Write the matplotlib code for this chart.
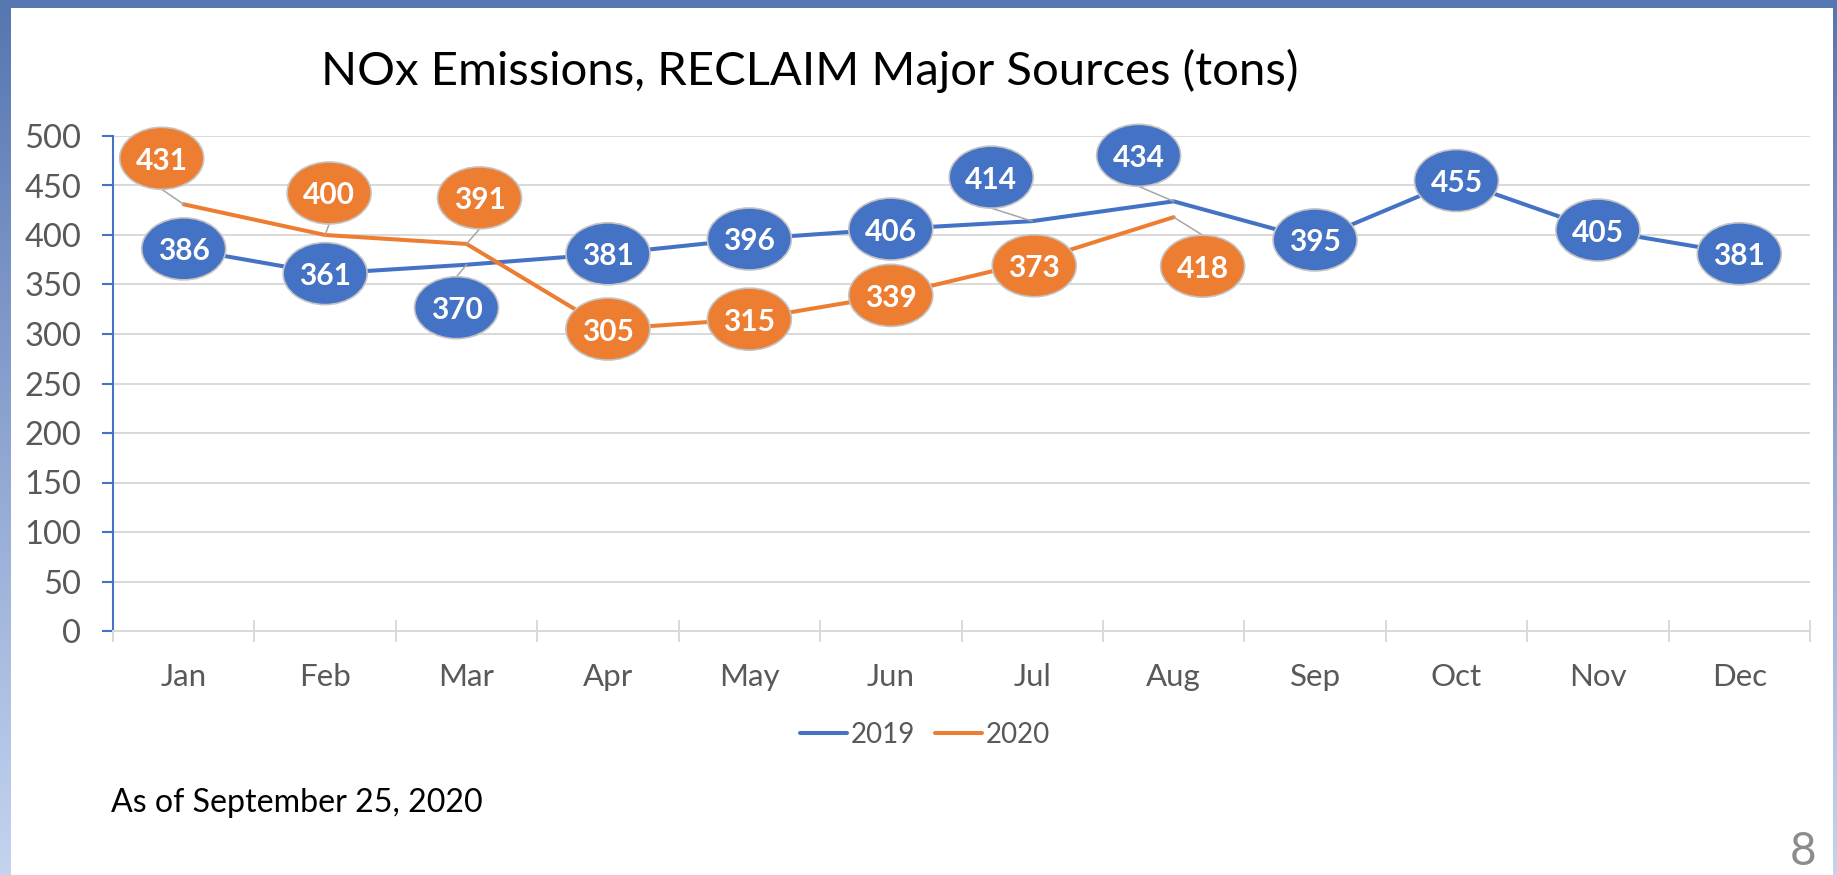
import matplotlib
matplotlib.use('Agg')
import matplotlib.pyplot as plt
import numpy as np
from matplotlib.patches import Ellipse
from matplotlib.lines import Line2D
from matplotlib.transforms import Affine2D, ScaledTranslation

plt.rcParams['font.family'] = ['Lato', 'DejaVu Sans']

# ---------------- data ----------------
months = ['Jan', 'Feb', 'Mar', 'Apr', 'May', 'Jun', 'Jul', 'Aug', 'Sep', 'Oct', 'Nov', 'Dec']
nox_2019 = [386, 361, 370, 381, 396, 406, 414, 434, 395, 455, 405, 381]
nox_2020 = [431, 400, 391, 305, 315, 339, 373, 418]
series_names = ['2019', '2020']
y_ticks = [0, 50, 100, 150, 200, 250, 300, 350, 400, 450, 500]
title = 'NOx Emissions, RECLAIM Major Sources (tons)'
note = 'As of September 25, 2020'
page_no = '8'

# label callout offsets (pixels, layout only)
off_2019 = [(0, 0), (0, 0), (-10, -43), (0, 0), (0, 0), (0, 0),
            (-41, 44), (-35, 46), (0, 0), (0, 0), (0, 0), (0, 0)]
off_2020 = [(-22, 46), (4, 42), (13, 46), (0, 0), (0, 0), (0, 0), (2, -4), (29, -49)]

BLUE = '#4472C4'
ORANGE = '#ED7D31'
GRID = '#D9D9D9'
TXT = '#595959'

W, H = 1837, 875
fig = plt.figure(figsize=(W / 100, H / 100), dpi=100)
fig.patch.set_facecolor('white')

# ---------------- slide frame ----------------
bg = fig.add_axes([0, 0, 1, 1], zorder=-10)
bg.axis('off')
c_top = np.array([0x56, 0x76, 0xB1]) / 255
c_bot = np.array([0xC4, 0xD4, 0xEF]) / 255
t = np.linspace(0, 1, 256)[:, None]
grad = (c_top[None, :] * (1 - t) + c_bot[None, :] * t)[:, None, :]
bg.imshow(grad, extent=(0, 11, H, 0), aspect='auto', interpolation='bilinear')
bg.imshow(grad, extent=(W - 4, W, H, 0), aspect='auto', interpolation='bilinear')
bg.fill_between([0, W], 0, 8, color='#5777B2', lw=0)
bg.set_xlim(0, W)
bg.set_ylim(H, 0)

# ---------------- chart ----------------
L, R, T, B = 113, 1810, 136, 631
ax = fig.add_axes([L / W, 1 - B / H, (R - L) / W, (B - T) / H])
ax.set_xlim(0, len(months))
ax.set_ylim(0, 500)
xc = np.arange(len(months)) + 0.5

ax.plot(xc, nox_2019, color=BLUE, lw=2.9, solid_joinstyle='round', solid_capstyle='round',
        zorder=3, label=series_names[0])
ax.plot(xc[:len(nox_2020)], nox_2020, color=ORANGE, lw=2.9, solid_joinstyle='round',
        solid_capstyle='round', zorder=3.5, label=series_names[1])

ax.set_yticks(y_ticks)
ax.yaxis.grid(True, color=GRID, lw=1.4)
ax.set_axisbelow(True)
ax.set_xticks(np.arange(len(months) + 1))
ax.set_xticks(xc, minor=True)
ax.set_xticklabels([])
ax.set_xticklabels(months, minor=True)
ax.tick_params(axis='x', which='major', direction='inout', length=16, width=1.4, color=GRID)
ax.tick_params(axis='x', which='minor', length=0, pad=23, labelsize=22.5, labelcolor=TXT)
ax.tick_params(axis='y', direction='out', length=8, width=1.5, color=BLUE, pad=15,
               labelsize=23.5, labelcolor=TXT)
for s in ['top', 'right']:
    ax.spines[s].set_visible(False)
ax.spines['left'].set_color(BLUE)
ax.spines['left'].set_linewidth(1.5)
ax.spines['bottom'].set_color(GRID)
ax.spines['bottom'].set_linewidth(1.4)

EW, EH = 84, 62


def add_label(xi, yi, val, dx, dy, color):
    base = Affine2D() + ScaledTranslation(xi, yi, ax.transData)
    if abs(dy) > 20:
        ey = dy - np.sign(dy) * EH / 2
        ln = Line2D([0, dx], [0, ey], transform=base, color='#A6A6A6', lw=1.1, zorder=4)
        ln.set_clip_on(False)
        ax.add_artist(ln)
    e = Ellipse((dx, dy), EW, EH, transform=base, facecolor=color, edgecolor='#C4C4C4',
                lw=1.2, zorder=6)
    e.set_clip_on(False)
    ax.add_artist(e)
    ax.annotate(str(val), xy=(xi, yi), xytext=(dx, dy), textcoords='offset pixels',
                ha='center', va='center_baseline', color='white', fontsize=21.5,
                fontweight='bold', zorder=7, annotation_clip=False)


for i, v in enumerate(nox_2019):
    add_label(xc[i], v, v, off_2019[i][0], off_2019[i][1], BLUE)
for i, v in enumerate(nox_2020):
    add_label(xc[i], v, v, off_2020[i][0], off_2020[i][1], ORANGE)

leg = ax.legend(loc='center', bbox_to_anchor=(925 / W, 1 - 735 / H), bbox_transform=fig.transFigure,
                ncol=2, frameon=False, fontsize=20, handlelength=1.7, handletextpad=0.15,
                columnspacing=0.7, labelcolor=TXT)

fig.text(810 / W, 1 - 85 / H, title, ha='center', va='baseline', fontsize=34, color='black')
fig.text(111 / W, 1 - 812 / H, note, ha='left', va='baseline', fontsize=23.1, color='black')
fig.text(1803 / W, 1 - 865 / H, page_no, ha='center', va='baseline', fontsize=33, color='#8C8C8C')

fig.savefig('out.png', dpi=100, facecolor='white')
